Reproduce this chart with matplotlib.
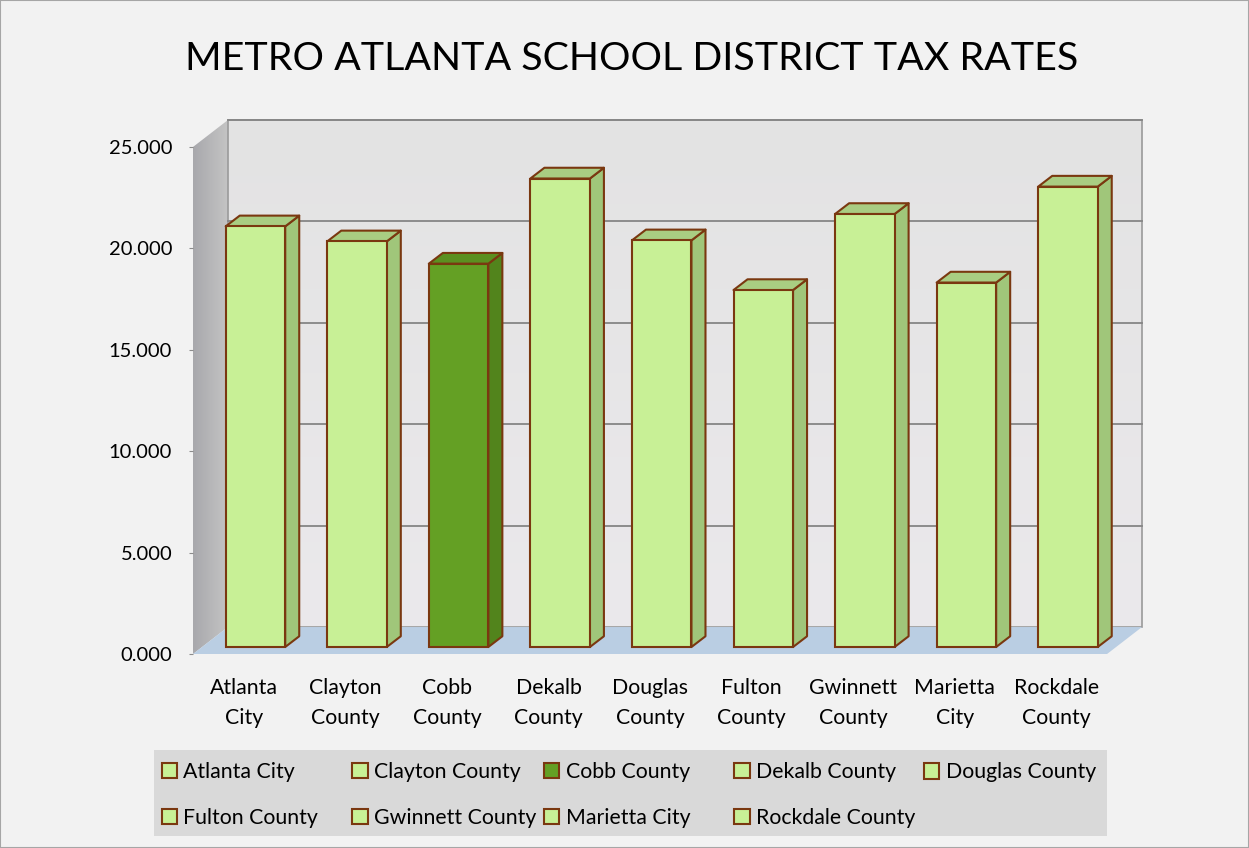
import numpy as np
import matplotlib
matplotlib.use("Agg")
import matplotlib.pyplot as plt
from matplotlib.patches import Rectangle, Polygon, Patch

plt.rcParams['font.family'] = ['Lato', 'DejaVu Sans']

# dados (taxas)
distritos = ['Atlanta City', 'Clayton County', 'Cobb County', 'Dekalb County',
             'Douglas County', 'Fulton County', 'Gwinnett County',
             'Marietta City', 'Rockdale County']
taxas = [20.74, 20.00, 18.90, 23.10, 20.05, 17.60, 21.35, 17.97, 22.70]
destaque = [False, False, True, False, False, False, False, False, False]
yticks = [0, 5, 10, 15, 20, 25]

# cores
cor_frente = '#c8f096'
cor_lado = '#a0c67a'
cor_topo = '#a9cd82'
cor_frente_d = '#64a024'
cor_lado_d = '#52841c'
cor_topo_d = '#5b9020'
cor_borda = '#7a3810'

# geometria "3d"
DX, DY = 0.344, 1.33      # profundidade total (parede do fundo)
bx0, bw = -0.178, 0.586    # face frontal da barra
by0 = 0.345
bdx, bdy = 0.138, 0.53     # profundidade da barra
n = len(distritos)

fig = plt.figure(figsize=(12.49, 8.48), dpi=100)
fig.patch.set_facecolor('#f2f2f2')
fig.add_artist(Rectangle((0, 0), 1, 1, transform=fig.transFigure, fill=False,
                         edgecolor='#a6a6a6', lw=1.5))

ax = fig.add_axes([193/1249, 1 - 654/848, 949/1249, 534/848])
ax.set_facecolor('none')
ax.set_xlim(-0.5, n - 0.5 + DX)
ax.set_ylim(0, 25 + DY)

# parede do fundo
fundo = Polygon([(-0.5 + DX, DY), (n - 0.5 + DX, DY), (n - 0.5 + DX, 25 + DY),
                 (-0.5 + DX, 25 + DY)], closed=True, facecolor='none',
                edgecolor='#9a9a9a', lw=1.2, zorder=2, clip_on=False)
ax.add_patch(fundo)
grad = np.linspace(0, 1, 256).reshape(-1, 1)
im = ax.imshow(grad, cmap=matplotlib.colors.LinearSegmentedColormap.from_list(
    'f', ['#ebe9ec', '#e3e3e3']), extent=(-0.5 + DX, n - 0.5 + DX, DY, 25 + DY),
    origin='lower', aspect='auto', zorder=1)
im.set_clip_path(fundo)

for v in yticks[1:]:
    ax.plot([-0.5 + DX, n - 0.5 + DX], [v + DY, v + DY], color='#858585',
            lw=1.3, zorder=3, clip_on=False)

# parede esquerda
esq = Polygon([(-0.5, 0), (-0.5, 25), (-0.5 + DX, 25 + DY), (-0.5 + DX, DY)],
              closed=True, facecolor='none', edgecolor='none', zorder=2)
ax.add_patch(esq)
grad2 = np.linspace(0, 1, 256).reshape(1, -1)
im2 = ax.imshow(grad2, cmap=matplotlib.colors.LinearSegmentedColormap.from_list(
    'e', ['#a8a8ac', '#c4c4c4']), extent=(-0.5, -0.5 + DX, 0, 25 + DY),
    origin='lower', aspect='auto', zorder=1)
im2.set_clip_path(esq)

# piso
ax.add_patch(Polygon([(-0.5, 0), (n - 0.5, 0), (n - 0.5 + DX, DY), (-0.5 + DX, DY)],
                     closed=True, facecolor='#bacee3', edgecolor='none',
                     zorder=2, clip_on=False))

# barras
for i, (v, d) in enumerate(zip(taxas, destaque)):
    fr = cor_frente_d if d else cor_frente
    la = cor_lado_d if d else cor_lado
    to = cor_topo_d if d else cor_topo
    x1 = i + bx0
    x2 = x1 + bw
    ax.add_patch(Polygon([(x2, by0), (x2 + bdx, by0 + bdy), (x2 + bdx, by0 + bdy + v),
                          (x2, by0 + v)], closed=True, facecolor=la,
                         edgecolor=cor_borda, lw=1.5, zorder=5, joinstyle='round'))
    ax.add_patch(Polygon([(x1, by0 + v), (x1 + bdx, by0 + v + bdy),
                          (x2 + bdx, by0 + v + bdy), (x2, by0 + v)], closed=True,
                         facecolor=to, edgecolor=cor_borda, lw=1.5, zorder=5,
                         joinstyle='round'))
    ax.add_patch(Rectangle((x1, by0), bw, v, facecolor=fr, edgecolor=cor_borda,
                           lw=1.5, zorder=6))

# eixos
for s in ax.spines.values():
    s.set_visible(False)
ax.set_xticks(range(n))
ax.set_xticklabels([d.replace(' ', '\n') for d in distritos], fontsize=15.3,
                   linespacing=1.62)
ax.tick_params(axis='x', length=0, pad=17)
ax.set_yticks(yticks)
ax.set_yticklabels([f'{v:.3f}' for v in yticks], fontsize=14.5)
ax.tick_params(axis='y', length=3, color='#8c8c8c', pad=12)

fig.text(632/1249, 1 - 69.5/848, 'METRO ATLANTA SCHOOL DISTRICT TAX RATES',
         fontsize=28.4, ha='center', va='baseline')

# legenda
fig.add_artist(Rectangle((154/1249, 1 - 836/848), (1107 - 154)/1249, 86/848,
                         transform=fig.transFigure, facecolor='#d9d9d9',
                         edgecolor='none', zorder=0))
col_x = [161.7, 352.3, 544, 734.3, 924]
for c in range(5):
    idx = [k for k in (c, c + 5) if k < n]
    hs = [Patch(facecolor=cor_frente_d if destaque[k] else cor_frente,
                edgecolor=cor_borda, lw=1.5) for k in idx]
    ymid = 794.6 if len(idx) == 2 else 772.5
    leg = fig.legend(handles=hs, labels=[distritos[k] for k in idx],
                     loc='center left', bbox_to_anchor=(col_x[c]/1249, 1 - ymid/848),
                     frameon=False, fontsize=15.3, handlelength=0.72,
                     handleheight=0.72, handletextpad=0.3, borderpad=0,
                     borderaxespad=0, labelspacing=1.22)

fig.savefig('out.png', dpi=100, facecolor=fig.get_facecolor())
